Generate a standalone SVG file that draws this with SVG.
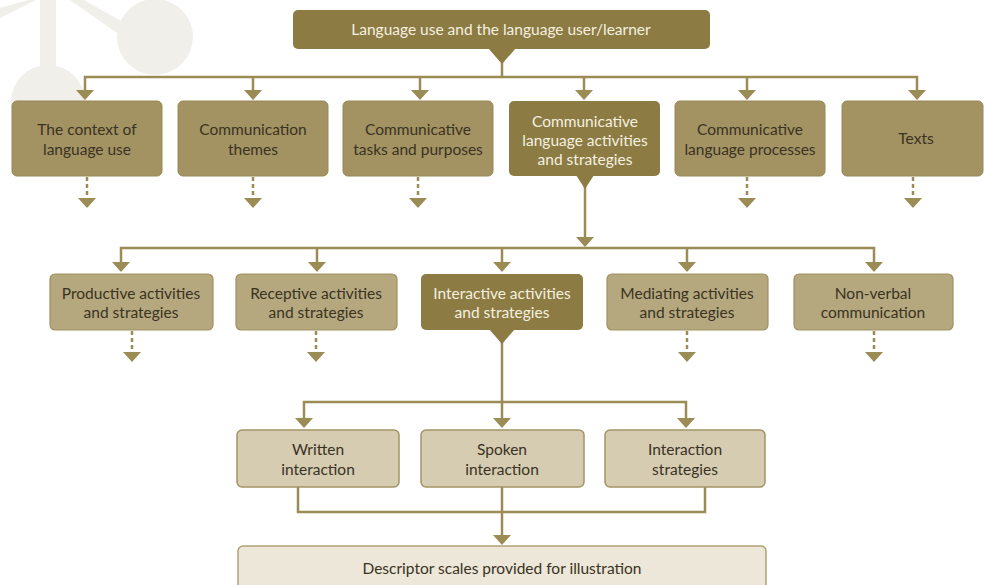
<svg xmlns="http://www.w3.org/2000/svg" width="984" height="585" viewBox="0 0 984 585">
<style>
text{font-family:Lato,"Open Sans","Liberation Sans",sans-serif;font-size:15.5px;text-anchor:middle}
.dk{fill:#8c7b42}
.l1{fill:#a39363;stroke:#988857;stroke-width:1}
.l2{fill:#b5a87e;stroke:#a09160;stroke-width:1.2}
.l3{fill:#d5ccb2;stroke:#a39466;stroke-width:1.5}
.l4{fill:#ece7d9;stroke:#b0a275;stroke-width:1.5}
.tw{fill:#f5f0e0}
.td{fill:#3a3222}
.ln{stroke:#9b8b55;stroke-width:2.5;fill:none}
.ds{stroke:#9b8b55;stroke-width:2.5;fill:none;stroke-dasharray:4 3}
.ah{fill:#9b8b55}
.wm{fill:#f1efea}
</style>
<defs>
<path id="ah" d="M-9,0 L9,0 L0,10 Z" class="ah"/>
</defs>
<g id="watermark">
<rect x="40" y="0" width="16" height="80" class="wm"/>
<circle cx="155" cy="37" r="38" class="wm"/>
<circle cx="48" cy="102" r="37" class="wm"/>
<path d="M70,0 L84,0 L130,26 L124,38 Z" class="wm"/>
<path d="M0,8 L28,0 L36,0 L0,18 Z" class="wm"/>
</g>
<g id="connectors">
<path class="ln" d="M502,62 V77 M85,90 V77 H917 V90 M253,77 V90 M420,77 V90 M584,77 V90 M747,77 V90"/>
<use href="#ah" x="85" y="90"/><use href="#ah" x="253" y="90"/><use href="#ah" x="420" y="90"/><use href="#ah" x="584" y="90"/><use href="#ah" x="747" y="90"/><use href="#ah" x="917" y="90"/>
<path class="ds" d="M87,177 V198 M253,177 V198 M418,177 V198 M747,177 V198 M913,177 V198"/>
<use href="#ah" x="87" y="198"/><use href="#ah" x="253" y="198"/><use href="#ah" x="418" y="198"/><use href="#ah" x="747" y="198"/><use href="#ah" x="913" y="198"/>
<path class="ln" d="M585,186 V237 M121,262 V248 H874 V262 M317,248 V262 M502,248 V262 M687,248 V262"/>
<use href="#ah" x="585" y="237"/>
<use href="#ah" x="121" y="262"/><use href="#ah" x="317" y="262"/><use href="#ah" x="502" y="262"/><use href="#ah" x="687" y="262"/><use href="#ah" x="874" y="262"/>
<path class="ds" d="M132,331 V352 M316,331 V352 M687,331 V352 M874,331 V352"/>
<use href="#ah" x="132" y="352"/><use href="#ah" x="316" y="352"/><use href="#ah" x="687" y="352"/><use href="#ah" x="874" y="352"/>
<path class="ln" d="M502,342 V418 M304,418 V402 H686 V418"/>
<use href="#ah" x="304" y="418"/><use href="#ah" x="502" y="418"/><use href="#ah" x="686" y="418"/>
<path class="ln" d="M298,487 V512 H705 V487 M502,487 V535"/>
<use href="#ah" x="502" y="535"/>
</g>
<g id="n-top">
<rect x="293" y="10" width="417" height="39" rx="5" class="dk"/>
<path d="M488,48 L516,48 L502,64 Z" class="dk"/>
<text x="501" y="35" class="tw">Language use and the language user/learner</text>
</g>
<g id="n-context">
<rect x="12" y="101" width="150" height="75" rx="5" class="l1"/>
<text x="87" y="135" class="td">The context of</text>
<text x="87" y="155" class="td">language use</text>
</g>
<g id="n-themes">
<rect x="178" y="101" width="150" height="75" rx="5" class="l1"/>
<text x="253" y="135" class="td">Communication</text>
<text x="253" y="155" class="td">themes</text>
</g>
<g id="n-tasks">
<rect x="343" y="101" width="150" height="75" rx="5" class="l1"/>
<text x="418" y="135" class="td">Communicative</text>
<text x="418" y="155" class="td">tasks and purposes</text>
</g>
<g id="n-activities">
<rect x="509" y="101" width="151" height="75" rx="5" class="dk"/>
<path d="M576,175 L594,175 L585,189 Z" class="dk"/>
<text x="585" y="127" class="tw">Communicative</text>
<text x="585" y="146" class="tw">language activities</text>
<text x="585" y="165" class="tw">and strategies</text>
</g>
<g id="n-processes">
<rect x="675" y="101" width="150" height="75" rx="5" class="l1"/>
<text x="750" y="135" class="td">Communicative</text>
<text x="750" y="155" class="td">language processes</text>
</g>
<g id="n-texts">
<rect x="842" y="101" width="141" height="75" rx="5" class="l1"/>
<text x="916" y="144" class="td">Texts</text>
</g>
<g id="n-productive">
<rect x="50" y="274" width="163" height="56" rx="5" class="l2"/>
<text x="131" y="299" class="td">Productive activities</text>
<text x="131" y="318" class="td">and strategies</text>
</g>
<g id="n-receptive">
<rect x="236" y="274" width="161" height="56" rx="5" class="l2"/>
<text x="316" y="299" class="td">Receptive activities</text>
<text x="316" y="318" class="td">and strategies</text>
</g>
<g id="n-interactive">
<rect x="421" y="274" width="162" height="56" rx="5" class="dk"/>
<path d="M489,329 L515,329 L502,344 Z" class="dk"/>
<text x="502" y="299" class="tw">Interactive activities</text>
<text x="502" y="318" class="tw">and strategies</text>
</g>
<g id="n-mediating">
<rect x="607" y="274" width="161" height="56" rx="5" class="l2"/>
<text x="687" y="299" class="td">Mediating activities</text>
<text x="687" y="318" class="td">and strategies</text>
</g>
<g id="n-nonverbal">
<rect x="794" y="274" width="159" height="56" rx="5" class="l2"/>
<text x="873" y="299" class="td">Non-verbal</text>
<text x="873" y="318" class="td">communication</text>
</g>
<g id="n-written">
<rect x="237" y="430" width="162" height="57" rx="5" class="l3"/>
<text x="318" y="455" class="td">Written</text>
<text x="318" y="475" class="td">interaction</text>
</g>
<g id="n-spoken">
<rect x="421" y="430" width="163" height="57" rx="5" class="l3"/>
<text x="502" y="455" class="td">Spoken</text>
<text x="502" y="475" class="td">interaction</text>
</g>
<g id="n-strategies">
<rect x="605" y="430" width="160" height="57" rx="5" class="l3"/>
<text x="685" y="455" class="td">Interaction</text>
<text x="685" y="475" class="td">strategies</text>
</g>
<g id="n-descriptor">
<rect x="238" y="546" width="528" height="46" rx="5" class="l4"/>
<text x="502" y="574" class="td">Descriptor scales provided for illustration</text>
</g>
</svg>
